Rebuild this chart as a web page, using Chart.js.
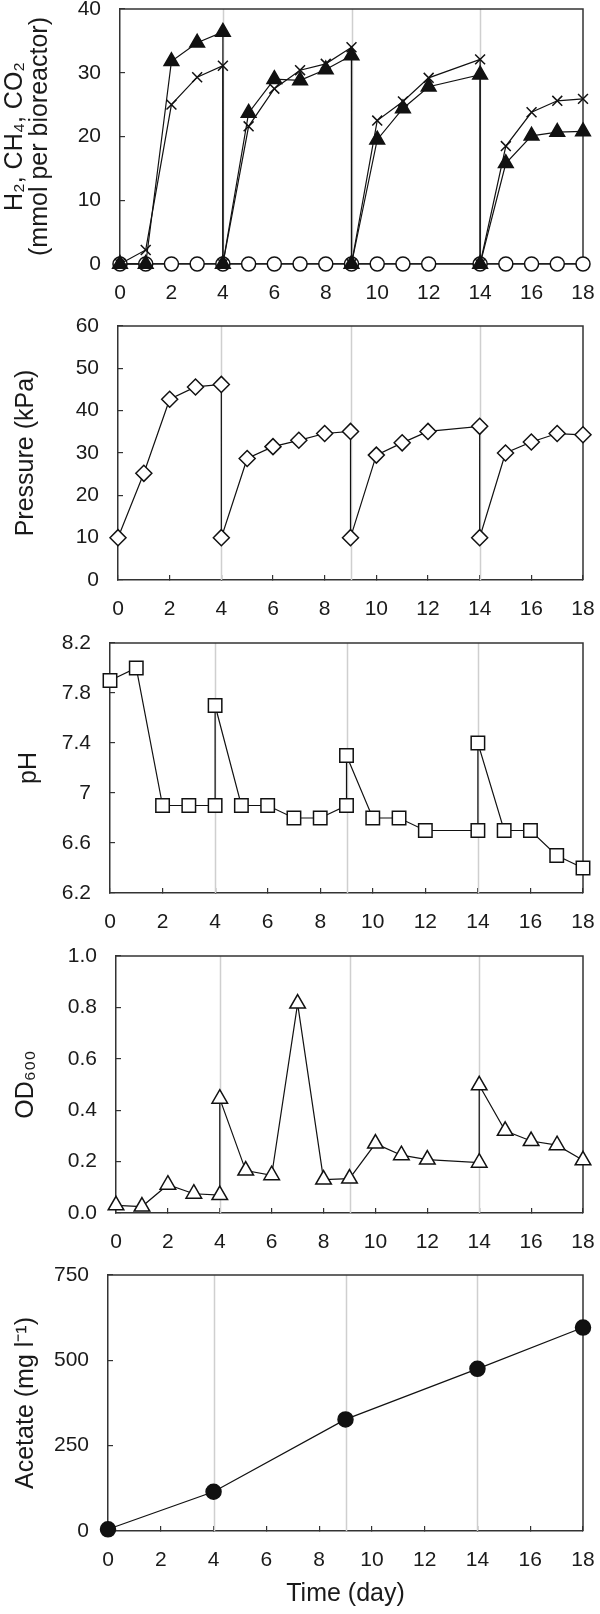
<!DOCTYPE html>
<html>
<head>
<meta charset="utf-8">
<script src="https://cdn.jsdelivr.net/npm/chart.js@4.4.0/dist/chart.umd.min.js"></script>
<style>
body { margin: 0; background: #fff; }
#wrap { position: relative; width: 600px; height: 1614px; overflow: hidden; }
canvas { position: absolute; left: 0; }
</style>
</head>
<body>
<div id="wrap">
	<canvas id="gas"></canvas>
	<canvas id="pressure"></canvas>
	<canvas id="ph"></canvas>
	<canvas id="od"></canvas>
	<canvas id="acetate"></canvas>
</div>
<script>
// days where the headspace was flushed (grey lines)
const batchDays = [4, 9, 14];
const dayTicks = [0, 2, 4, 6, 8, 10, 12, 14, 16, 18];

// gas panel
const gasDays = [0, 1, 2, 3, 4, 4, 5, 6, 7, 8, 9, 9, 10, 11, 12, 14, 14, 15, 16, 17, 18];
const triangleVals = [0, 0, 31.8, 34.7, 36.4, 0, 23.7, 29.0, 28.8, 30.5, 32.7, 0, 19.5, 24.4, 27.8, 29.7, 0, 15.8, 20.1, 20.7, 20.8];
const crossVals = [0, 2.2, 25.0, 29.3, 31.1, 0, 21.6, 27.5, 30.4, 31.4, 34.0, 0, 22.5, 25.5, 29.2, 32.1, 0, 18.5, 23.8, 25.6, 25.9];
const circleDays = [0, 1, 2, 3, 4, 5, 6, 7, 8, 9, 10, 11, 12, 14, 15, 16, 17, 18];
const circleVals = [0, 0, 0, 0, 0, 0, 0, 0, 0, 0, 0, 0, 0, 0, 0, 0, 0, 0];
const gasTicks = [0, 10, 20, 30, 40];

// pressure panel
const pressureDays = [0, 1, 2, 3, 4, 4, 5, 6, 7, 8, 9, 9, 10, 11, 12, 14, 14, 15, 16, 17, 18];
const pressureVals = [10, 25.2, 42.7, 45.6, 46.2, 10, 28.7, 31.5, 33.0, 34.6, 35.1, 10, 29.5, 32.4, 35.1, 36.3, 10, 30.0, 32.6, 34.6, 34.3];
const pressureTicks = [0, 10, 20, 30, 40, 50, 60];

// pH panel
const phDays = [0, 1, 2, 3, 4, 4, 5, 6, 7, 8, 9, 9, 10, 11, 12, 14, 14, 15, 16, 17, 18];
const phVals = [7.9, 8.0, 6.9, 6.9, 6.9, 7.7, 6.9, 6.9, 6.8, 6.8, 6.9, 7.3, 6.8, 6.8, 6.7, 6.7, 7.4, 6.7, 6.7, 6.5, 6.4];
const phTicks = [6.2, 6.6, 7, 7.4, 7.8, 8.2];
const phTickLabels = ['6.2', '6.6', '7', '7.4', '7.8', '8.2'];

// OD panel
const odDays = [0, 1, 2, 3, 4, 4, 5, 6, 7, 8, 9, 10, 11, 12, 14, 14, 15, 16, 17, 18];
const odVals = [0.03, 0.025, 0.11, 0.075, 0.07, 0.445, 0.165, 0.147, 0.815, 0.13, 0.134, 0.27, 0.225, 0.208, 0.196, 0.497, 0.32, 0.28, 0.264, 0.205];
const odTicks = [0, 0.2, 0.4, 0.6, 0.8, 1.0];
const odTickLabels = ['0.0', '0.2', '0.4', '0.6', '0.8', '1.0'];

// acetate panel
const acetateDays = [0, 4, 9, 14, 18];
const acetateVals = [5, 115, 327, 475, 596];
const acetateTicks = [0, 250, 500, 750];

const tickFont = {family: "'Liberation Sans', Arial, sans-serif", size: 21};
const titleFont = {family: "'Liberation Sans', Arial, sans-serif", size: 25, lineHeight: 1.0};
const ink = '#1a1a1a';

const frame = {
	id: 'frame',
	beforeDatasetsDraw(chart) {
		const ctx = chart.ctx;
		const a = chart.chartArea;
		const x = chart.scales.x;
		ctx.save();
		ctx.strokeStyle = '#cfcfcf';
		ctx.lineWidth = 1.5;
		batchDays.forEach(d => {
			let px = Math.round(x.getPixelForValue(d)) + 0.5;
			ctx.beginPath();
			ctx.moveTo(px, a.top);
			ctx.lineTo(px, a.bottom);
			ctx.stroke();
		});
		ctx.strokeStyle = '#333';
		ctx.lineWidth = 1.5;
		ctx.beginPath();
		ctx.moveTo(a.left, a.top);
		ctx.lineTo(a.right, a.top);
		ctx.lineTo(a.right, a.bottom);
		ctx.stroke();
		ctx.restore();
	}
};

function pts(xs, ys) {
	return xs.map((x, i) => ({x: x, y: ys[i]}));
}

function series(xs, ys, style, radius, fill) {
	return {
		data: pts(xs, ys),
		showLine: true,
		borderColor: '#111',
		borderWidth: 1.2,
		tension: 0,
		fill: false,
		pointStyle: style,
		pointRadius: radius,
		pointBackgroundColor: fill,
		pointBorderColor: '#111',
		pointBorderWidth: 1.5,
		clip: false
	};
}

function makePanel(id, box, yTicks, yLabels, yTitle, titlePad, datasets, xTitle) {
	let canvas = document.getElementById(id);
	let xh = xTitle ? 80 : 45;
	let h = 15 + (box.bottom - box.top) + xh;
	canvas.width = 600;
	canvas.height = h;
	canvas.style.width = '600px';
	canvas.style.height = h + 'px';
	canvas.style.top = (box.top - 15) + 'px';

	let xScaleConfig = {
		type: 'linear',
		min: 0,
		max: 18,
		afterBuildTicks: s => { s.ticks = dayTicks.map(v => ({value: v})); },
		afterFit: s => { s.height = xh; s.paddingLeft = 0; s.paddingRight = 0; },
		grid: {drawOnChartArea: false, drawTicks: true, tickLength: -5, color: '#333', lineWidth: 1.2},
		border: {color: '#333', width: 1.5},
		ticks: {padding: 22, color: ink, font: tickFont, maxRotation: 0, autoSkip: false, callback: v => String(v)},
		title: {display: !!xTitle, text: xTitle || '', color: ink, font: titleFont, padding: {top: 0, bottom: 4}}
	};

	let yScaleConfig = {
		type: 'linear',
		min: yTicks[0],
		max: yTicks[yTicks.length - 1],
		afterBuildTicks: s => { s.ticks = yTicks.map(v => ({value: v})); },
		afterFit: s => { s.width = box.left; s.paddingTop = 0; s.paddingBottom = 0; },
		grid: {drawOnChartArea: false, drawTicks: true, tickLength: -5, color: '#333', lineWidth: 1.2},
		border: {color: '#333', width: 1.5},
		ticks: {padding: 24, color: ink, font: tickFont, autoSkip: false, callback: (v, i) => yLabels[i]},
		title: {display: true, text: yTitle, color: ink, font: titleFont, padding: {top: titlePad, bottom: 0}}
	};

	let config = {
		type: 'line',
		data: {datasets: datasets},
		options: {
			responsive: false,
			animation: false,
			layout: {padding: {top: 15, right: 600 - box.right, left: 0, bottom: 0}},
			plugins: {legend: {display: false}, tooltip: {enabled: false}},
			scales: {x: xScaleConfig, y: yScaleConfig}
		},
		plugins: [frame]
	};
	return new Chart(canvas.getContext('2d'), config);
}

document.addEventListener('DOMContentLoaded', () => {
	makePanel('gas', {left: 120, right: 583, top: 9, bottom: 264},
		gasTicks, gasTicks.map(String), ['H\u2082, CH\u2084, CO\u2082', '(mmol per bioreactor)'], 3, [
			series(gasDays, triangleVals, 'triangle', 8.5, '#111'),
			series(gasDays, crossVals, 'crossRot', 7, '#111'),
			series(circleDays, circleVals, 'circle', 7, '#fff')
		]);

	makePanel('pressure', {left: 118, right: 583, top: 326, bottom: 580},
		pressureTicks, pressureTicks.map(String), 'Pressure (kPa)', 14, [
			series(pressureDays, pressureVals, 'rectRot', 8, '#fff')
		]);

	makePanel('ph', {left: 110, right: 583, top: 643, bottom: 893},
		phTicks, phTickLabels, 'pH', 17, [
			series(phDays, phVals, 'rect', 9.5, '#fff')
		]);

	makePanel('od', {left: 116, right: 583, top: 956, bottom: 1213},
		odTicks, odTickLabels, 'OD\u2086\u2080\u2080', 14, [
			series(odDays, odVals, 'triangle', 9, '#fff')
		]);

	makePanel('acetate', {left: 108, right: 583, top: 1275, bottom: 1531},
		acetateTicks, acetateTicks.map(String), 'Acetate (mg l\u207B\u00B9)', 14, [
			series(acetateDays, acetateVals, 'circle', 7.5, '#111')
		], 'Time (day)');
});
</script>
</body>
</html>
